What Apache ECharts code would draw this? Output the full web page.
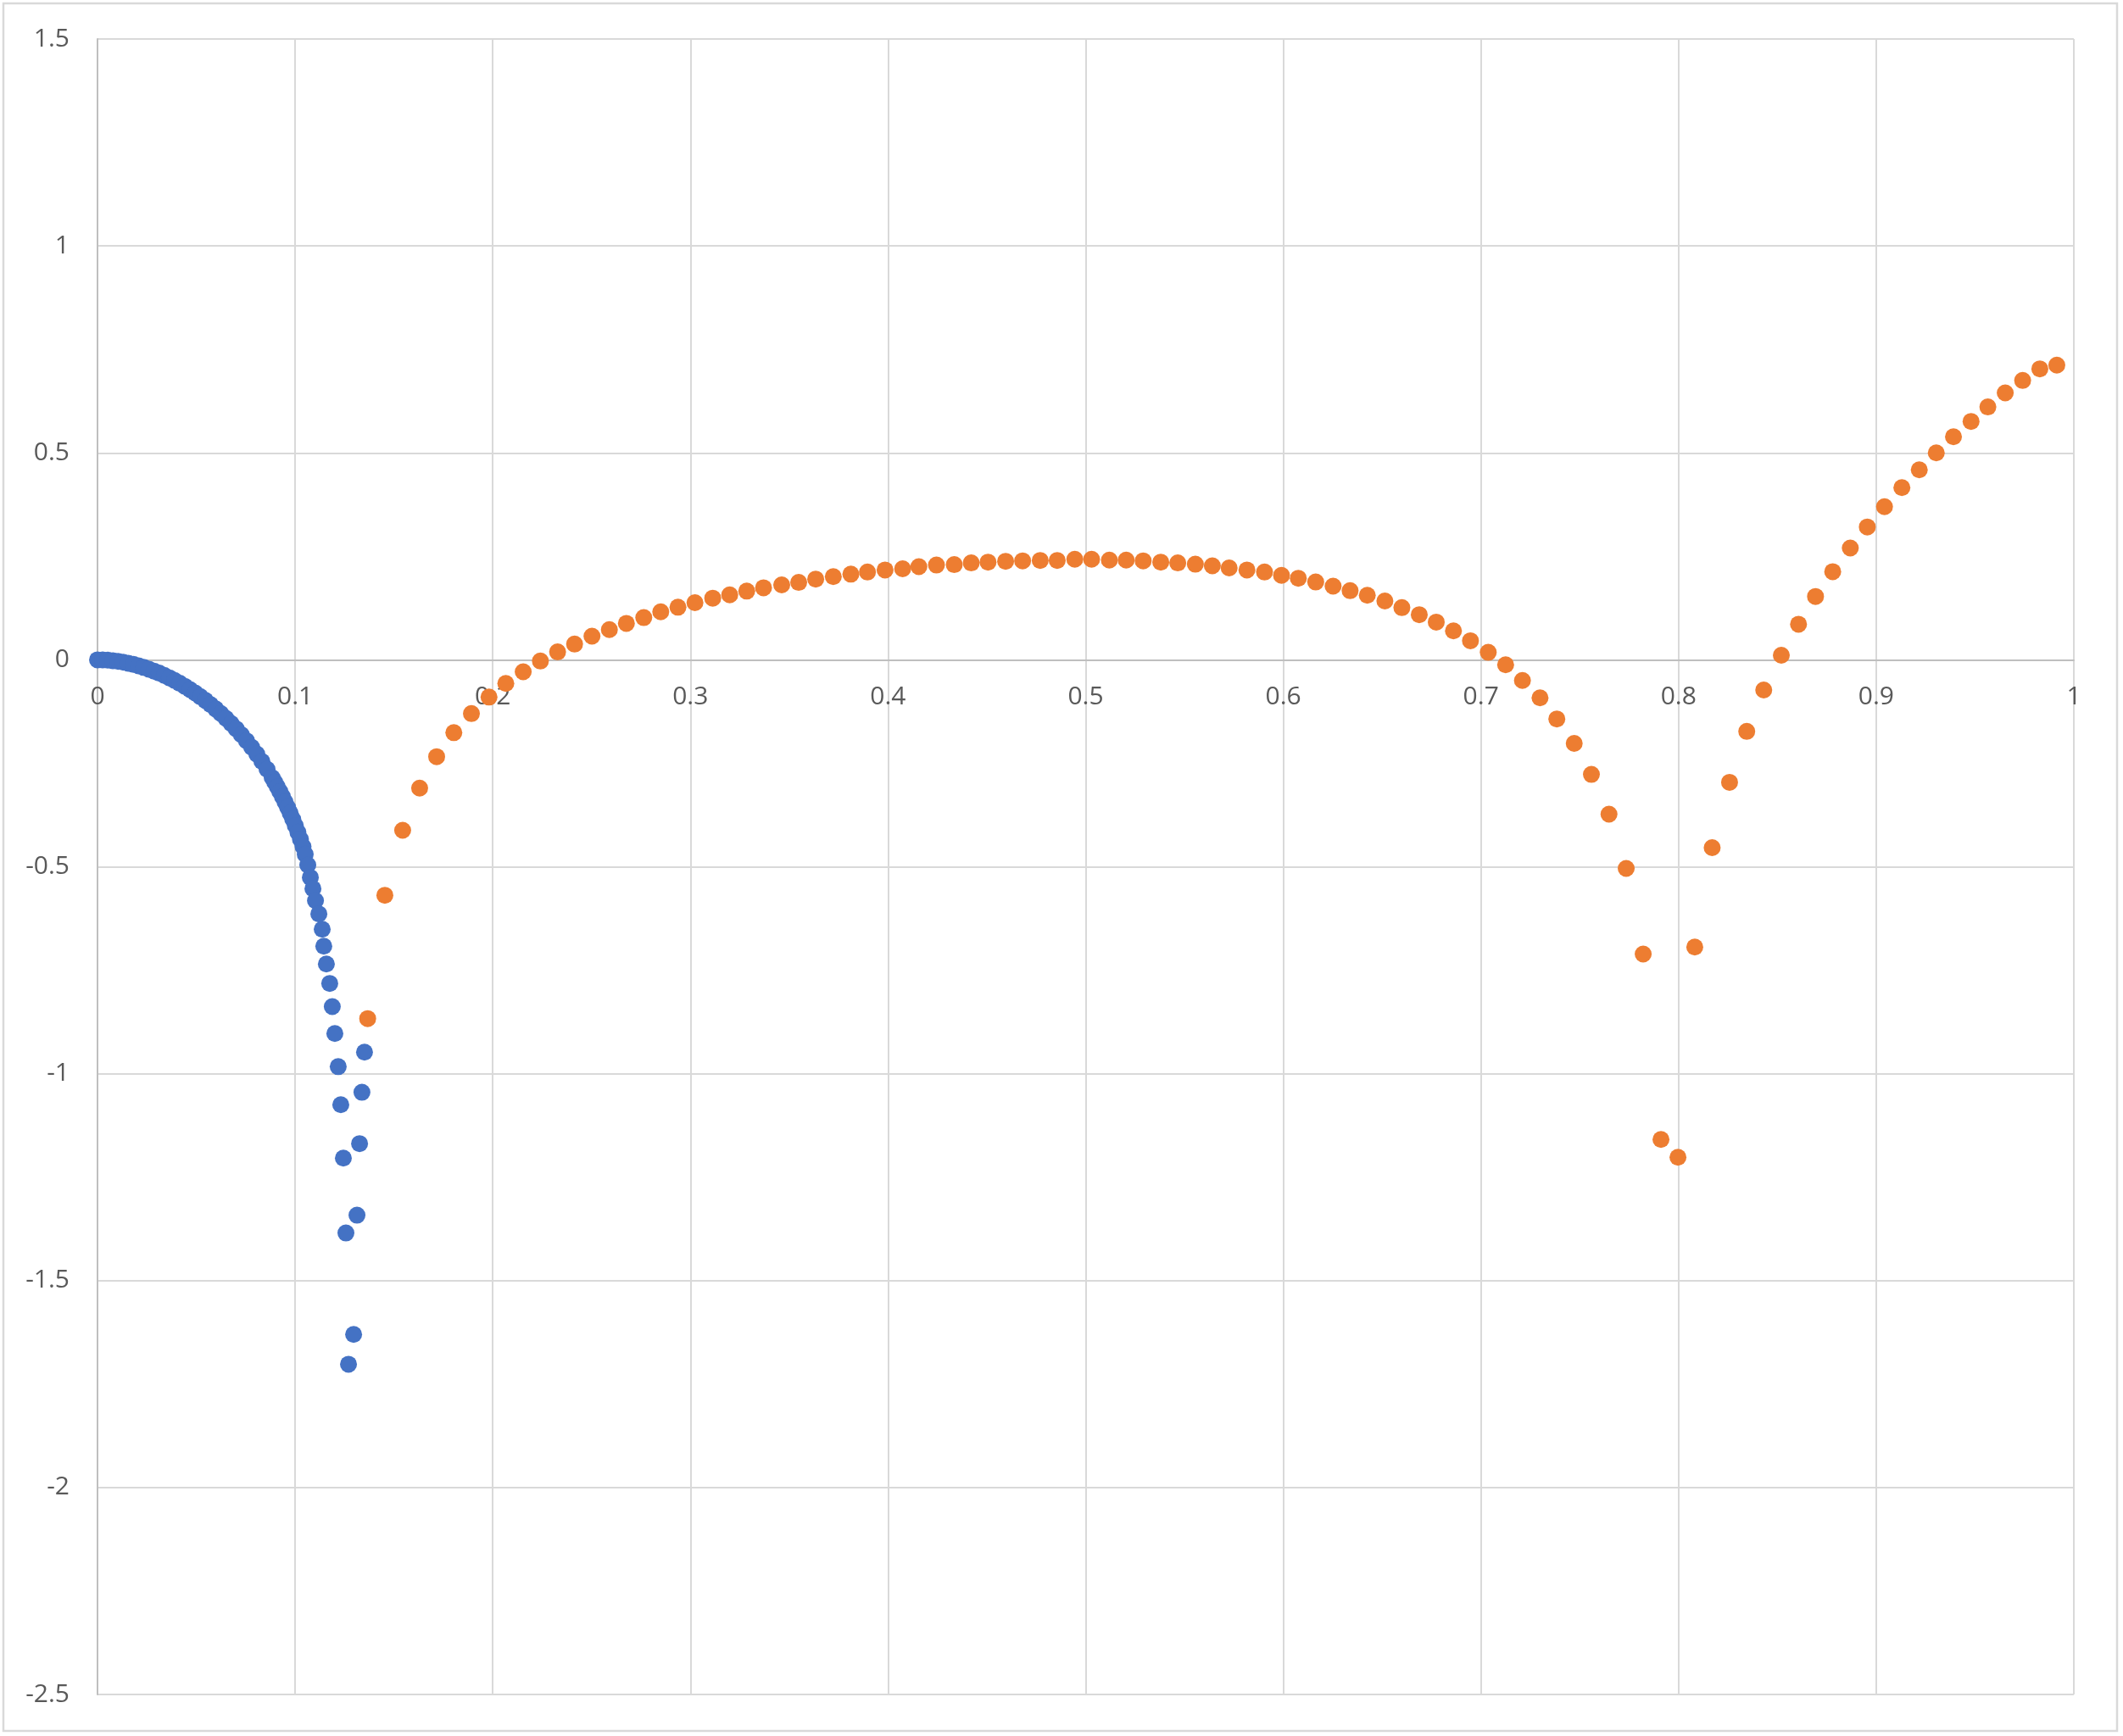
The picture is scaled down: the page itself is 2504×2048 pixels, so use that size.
<!DOCTYPE html>
<html>
<head>
<meta charset="utf-8">
<script src="https://cdn.jsdelivr.net/npm/echarts@6/dist/echarts.min.js"></script>
<style>
html,body{margin:0;padding:0;background:#fff;}
#chart{width:2504px;height:2048px;}
</style>
</head>
<body>
<div id="chart"></div>
<script>
// Series 1 (blue): x values and y values
var blueX = [0.0000,0.0026,0.0052,0.0078,0.0104,0.0130,0.0156,0.0182,0.0208,0.0234,0.0260,0.0286,0.0312,0.0338,0.0364,0.0390,0.0416,0.0442,0.0468,0.0494,0.0520,0.0546,0.0572,0.0598,0.0624,0.0650,0.0676,0.0702,0.0728,0.0754,0.0780,0.0806,0.0832,0.0858,0.0884,0.0897,0.0910,0.0923,0.0936,0.0949,0.0962,0.0975,0.0988,0.1001,0.1014,0.1027,0.1040,0.1051,0.1064,
  0.1077,0.1090,0.1103,0.1120,0.1137,0.1145,0.1158,0.1175,0.1188,0.1201,0.1218,0.1231,0.1244,0.1257,0.1270,0.1296,0.1313,0.1326,0.1338,0.1351];
var blueY = [0.0000,-0.0003,-0.0010,-0.0021,-0.0037,-0.0058,-0.0083,-0.0112,-0.0146,-0.0184,-0.0226,-0.0272,-0.0322,-0.0377,-0.0436,-0.0500,-0.0568,-0.0641,-0.0719,-0.0802,-0.0890,-0.0983,-0.1082,-0.1187,-0.1298,-0.1415,-0.1539,-0.1670,-0.1809,-0.1956,-0.2112,-0.2278,-0.2455,-0.2645,-0.2849,-0.2957,-0.3069,-0.3186,-0.3308,-0.3435,-0.3568,-0.3707,-0.3853,-0.4006,-0.4167,-0.4336,-0.4514,-0.4700,-0.4960,
  -0.526,-0.553,-0.582,-0.614,-0.651,-0.692,-0.735,-0.782,-0.838,-0.903,-0.983,-1.075,-1.204,-1.385,-1.702,-1.630,-1.342,-1.169,-1.045,-0.948];

// Series 2 (orange): x values and y values
var orangeX = [0.1367,0.1454,0.1544,0.1630,0.1716,0.1803,0.1892,0.1981,0.2066,0.2154,0.2241,0.2328,0.2414,0.2502,0.2590,0.2676,0.2764,0.2850,0.2937,0.3023,
  0.3113,0.3199,0.3285,0.3370,0.3462,0.3548,0.3634,0.3723,0.3812,0.3896,0.3985,0.4074,0.4156,0.4245,0.4335,0.4421,0.4506,0.4595,0.4681,0.4770,
  0.4856,0.4945,0.5030,0.5120,0.5205,0.5291,0.5380,0.5466,0.5555,0.5641,0.5726,0.5816,0.5905,0.5991,0.6076,0.6164,0.6252,0.6338,0.6425,0.6514,
  0.6600,0.6688,0.6774,0.6861,0.6947,0.7037,0.7125,0.7210,0.7299,0.7384,0.7472,0.7559,0.7648,0.7735,0.7821,0.7911,0.7997,0.8082,0.8170,0.8258,
  0.8345,0.8431,0.8520,0.8607,0.8693,0.8780,0.8869,0.8955,0.9042,0.9130,0.9218,0.9304,0.9391,0.9480,0.9565,0.9653,0.9741,0.9828,0.9914];
var orangeY = [-0.867,-0.569,-0.412,-0.310,-0.234,-0.176,-0.130,-0.090,-0.057,-0.029,-0.003,0.019,0.038,0.057,0.073,0.088,0.102,0.116,0.127,0.138,
  0.149,0.157,0.166,0.174,0.181,0.187,0.195,0.201,0.207,0.212,0.217,0.220,0.225,0.229,0.230,0.234,0.236,0.238,0.239,0.240,
  0.240,0.243,0.243,0.241,0.241,0.239,0.236,0.234,0.231,0.227,0.222,0.217,0.212,0.204,0.197,0.188,0.178,0.167,0.156,0.142,
  0.126,0.109,0.091,0.070,0.046,0.018,-0.012,-0.050,-0.092,-0.143,-0.202,-0.277,-0.373,-0.504,-0.711,-1.159,-1.202,-0.694,-0.454,-0.296,
  -0.173,-0.073,0.011,0.086,0.153,0.213,0.270,0.321,0.370,0.416,0.459,0.500,0.539,0.576,0.611,0.645,0.675,0.703,0.712];

// Axis ticks
var xTicks = {min: 0, max: 1, interval: 0.1};
var yTicks = {min: -2.5, max: 1.5, interval: 0.5};

function pairs(xs, ys) {
  var out = [];
  for (var i = 0; i < xs.length; i++) out.push([xs[i], ys[i]]);
  return out;
}

var W = 2504, H = 2048;
var gridBox = {left: 115, top: 46, right: 58, bottom: 49};
var plotH = H - gridBox.top - gridBox.bottom;
// the x axis crosses the y axis at y = 0: shift the bottom axis up to the zero position
var xAxisOffset = -plotH * (0 - yTicks.min) / (yTicks.max - yTicks.min);

var chart = echarts.init(document.getElementById('chart'), null, {renderer: 'canvas'});
var labelStyle = {color: '#595959', fontSize: 30, fontFamily: '"Open Sans", "Liberation Sans", sans-serif'};
chart.setOption({
  backgroundColor: '#ffffff',
  animation: false,
  graphic: [{
    type: 'rect',
    shape: {x: 4, y: 4, width: 2493, height: 2038},
    style: {fill: 'none', stroke: '#d9d9d9', lineWidth: 2.5},
    silent: true
  }],
  grid: {left: gridBox.left, top: gridBox.top, right: gridBox.right, bottom: gridBox.bottom, containLabel: false},
  xAxis: {
    type: 'value',
    position: 'bottom',
    offset: xAxisOffset,
    min: xTicks.min, max: xTicks.max, interval: xTicks.interval,
    axisLine: {show: true, onZero: false, lineStyle: {color: '#bfbfbf', width: 2}},
    axisTick: {show: false},
    axisLabel: Object.assign({margin: 29, showMinLabel: true, showMaxLabel: true}, labelStyle),
    splitLine: {show: true, lineStyle: {color: '#d9d9d9', width: 2}}
  },
  yAxis: {
    type: 'value',
    min: yTicks.min, max: yTicks.max, interval: yTicks.interval,
    axisLine: {show: true, onZero: false, lineStyle: {color: '#bfbfbf', width: 2}},
    axisTick: {show: false},
    axisLabel: Object.assign({margin: 33}, labelStyle),
    splitLine: {show: true, lineStyle: {color: '#d9d9d9', width: 2}}
  },
  series: [
    {type: 'scatter', name: 'Series1', data: pairs(blueX, blueY), symbol: 'circle', symbolSize: 20,
     itemStyle: {color: '#4472c4', opacity: 1}},
    {type: 'scatter', name: 'Series2', data: pairs(orangeX, orangeY), symbol: 'circle', symbolSize: 20,
     itemStyle: {color: '#ed7d31', opacity: 1}}
  ]
});
</script>
</body>
</html>
